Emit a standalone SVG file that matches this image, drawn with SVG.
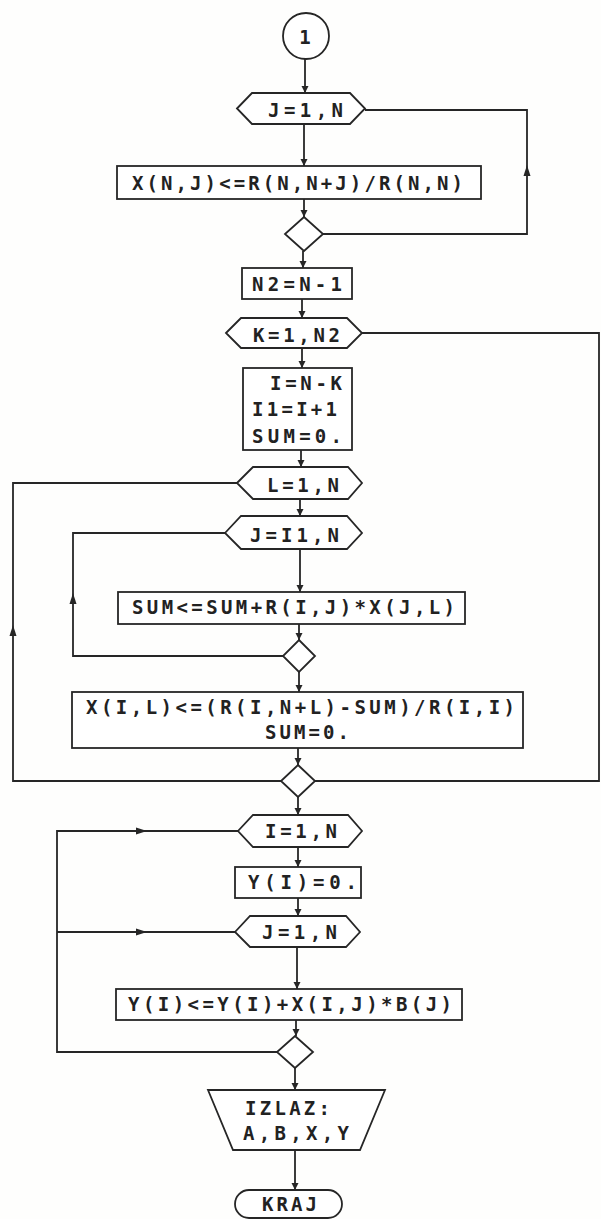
<svg xmlns="http://www.w3.org/2000/svg" xmlns:xlink="http://www.w3.org/1999/xlink" width="601" height="1219" viewBox="0 0 601 1219">
<style>
.s{fill:none;stroke:#262626;stroke-width:1.8;stroke-linejoin:miter}
.n{fill:#fff;stroke:#262626;stroke-width:1.8}
.t{font-family:"DejaVu Sans Mono","Liberation Mono",monospace;font-weight:bold;font-size:19px;fill:#222}
.ah{fill:#262626}
</style>
<defs>
<marker id="arr" markerWidth="8" markerHeight="8" refX="7" refY="3.5" orient="auto" markerUnits="userSpaceOnUse"><path d="M0,0 L7,3.5 L0,7 Z" fill="#262626"/></marker>
<path id="ah" d="M0,0 L-11,-3.5 L-11,3.5 Z"/>
</defs>
<rect x="0" y="0" width="601" height="1219" fill="#fefefd"/>
<g id="connectors">
<g class="s" marker-end="url(#arr)">
<path d="M305,59 V93"/>
<path d="M304,124 V166"/>
<path d="M304,199 V217"/>
<path d="M303,251 V268"/>
<path d="M302,299 V318"/>
<path d="M302,348 V368"/>
<path d="M301,450 V467"/>
<path d="M300,499 V516"/>
<path d="M300,549 V592"/>
<path d="M299,624 V640"/>
<path d="M299,672 V692"/>
<path d="M298,748 V765"/>
<path d="M298,797 V815"/>
<path d="M298,847 V867"/>
<path d="M298,898 V916"/>
<path d="M297,947 V989"/>
<path d="M296,1020 V1036"/>
<path d="M295,1068 V1090"/>
<path d="M295,1150 V1190"/>
</g>
<g class="s">
<path d="M323,234 H527 V110 H365"/>
<path d="M315,781 H599 V333 H362"/>
<path d="M281,781 H13 V483 H237"/>
<path d="M283,656 H73 V533 H225"/>
<path d="M277,1052 H57 V831 H238"/>
<path d="M57,932 H235"/>
</g>
<g class="ah">
<use xlink:href="#ah" transform="translate(527,165) rotate(-90)"/>
<use xlink:href="#ah" transform="translate(13,625) rotate(-90)"/>
<use xlink:href="#ah" transform="translate(73,593) rotate(-90)"/>
<use xlink:href="#ah" transform="translate(147,831)"/>
<use xlink:href="#ah" transform="translate(147,932)"/>
</g>
</g>
<g id="start">
<circle class="n" cx="306" cy="36" r="23"/>
<text class="t" x="305" y="44" text-anchor="middle">1</text>
</g>
<g id="loopJ1">
<path class="n" d="M237,108.5 L252,93 H350 L365,108.5 L350,124 H252 Z"/>
<text class="t" x="268" y="117" textLength="75" lengthAdjust="spacing">J=1,N</text>
</g>
<g id="assignXN">
<rect class="n" x="117" y="166" width="364" height="33"/>
<text class="t" x="132" y="190" textLength="331" lengthAdjust="spacing">X(N,J)&lt;=R(N,N+J)/R(N,N)</text>
</g>
<g id="endJ1">
<path class="n" d="M304,217 L323,234 L304,251 L285,234 Z"/>
</g>
<g id="assignN2">
<rect class="n" x="242" y="268" width="110" height="31"/>
<text class="t" x="252" y="291" textLength="90" lengthAdjust="spacing">N2=N-1</text>
</g>
<g id="loopK">
<path class="n" d="M226,333 L241,318 H347 L362,333 L347,348 H241 Z"/>
<text class="t" x="253" y="342" textLength="87" lengthAdjust="spacing">K=1,N2</text>
</g>
<g id="assignI">
<rect class="n" x="243" y="368" width="109" height="82"/>
<text class="t" x="270" y="390" textLength="72" lengthAdjust="spacing">I=N-K</text>
<text class="t" x="252" y="416" textLength="85" lengthAdjust="spacing">I1=I+1</text>
<text class="t" x="252" y="443" textLength="90" lengthAdjust="spacing">SUM=0.</text>
</g>
<g id="loopL">
<path class="n" d="M237,483 L253,467 H348 L362,483 L348,499 H253 Z"/>
<text class="t" x="267" y="492" textLength="72" lengthAdjust="spacing">L=1,N</text>
</g>
<g id="loopJI1">
<path class="n" d="M225,533 L241,516 H347 L362,533 L347,549 H241 Z"/>
<text class="t" x="250" y="542" textLength="89" lengthAdjust="spacing">J=I1,N</text>
</g>
<g id="assignSUM">
<rect class="n" x="118" y="592" width="347" height="32"/>
<text class="t" x="132" y="614" textLength="323" lengthAdjust="spacing">SUM&lt;=SUM+R(I,J)*X(J,L)</text>
</g>
<g id="endJI1">
<path class="n" d="M299,640 L315,656 L299,672 L283,656 Z"/>
</g>
<g id="assignXIL">
<rect class="n" x="72" y="692" width="451" height="56"/>
<text class="t" x="86" y="714" textLength="429" lengthAdjust="spacing">X(I,L)&lt;=(R(I,N+L)-SUM)/R(I,I)</text>
<text class="t" x="265" y="739" textLength="84" lengthAdjust="spacing">SUM=0.</text>
</g>
<g id="endLK">
<path class="n" d="M298,765 L315,781 L298,797 L281,781 Z"/>
</g>
<g id="loopI">
<path class="n" d="M238,831 L253,815 H348 L362,831 L348,847 H253 Z"/>
<text class="t" x="265" y="838" textLength="72" lengthAdjust="spacing">I=1,N</text>
</g>
<g id="assignY0">
<rect class="n" x="235" y="867" width="126" height="31"/>
<text class="t" x="248" y="889" textLength="109" lengthAdjust="spacing">Y(I)=0.</text>
</g>
<g id="loopJ2">
<path class="n" d="M235,932 L250,916 H346 L360,932 L346,947 H250 Z"/>
<text class="t" x="262" y="939" textLength="75" lengthAdjust="spacing">J=1,N</text>
</g>
<g id="assignY">
<rect class="n" x="116" y="989" width="346" height="31"/>
<text class="t" x="128" y="1011" textLength="324" lengthAdjust="spacing">Y(I)&lt;=Y(I)+X(I,J)*B(J)</text>
</g>
<g id="endJI">
<path class="n" d="M295,1036 L313,1052 L295,1068 L277,1052 Z"/>
</g>
<g id="output">
<path class="n" d="M208,1090 H385 L360,1150 H233 Z"/>
<text class="t" x="245" y="1115" textLength="85" lengthAdjust="spacing">IZLAZ:</text>
<text class="t" x="243" y="1140" textLength="106" lengthAdjust="spacing">A,B,X,Y</text>
</g>
<g id="end">
<rect class="n" x="235" y="1190" width="107" height="28" rx="14"/>
<text class="t" x="262" y="1211" textLength="55" lengthAdjust="spacing">KRAJ</text>
</g>
</svg>
